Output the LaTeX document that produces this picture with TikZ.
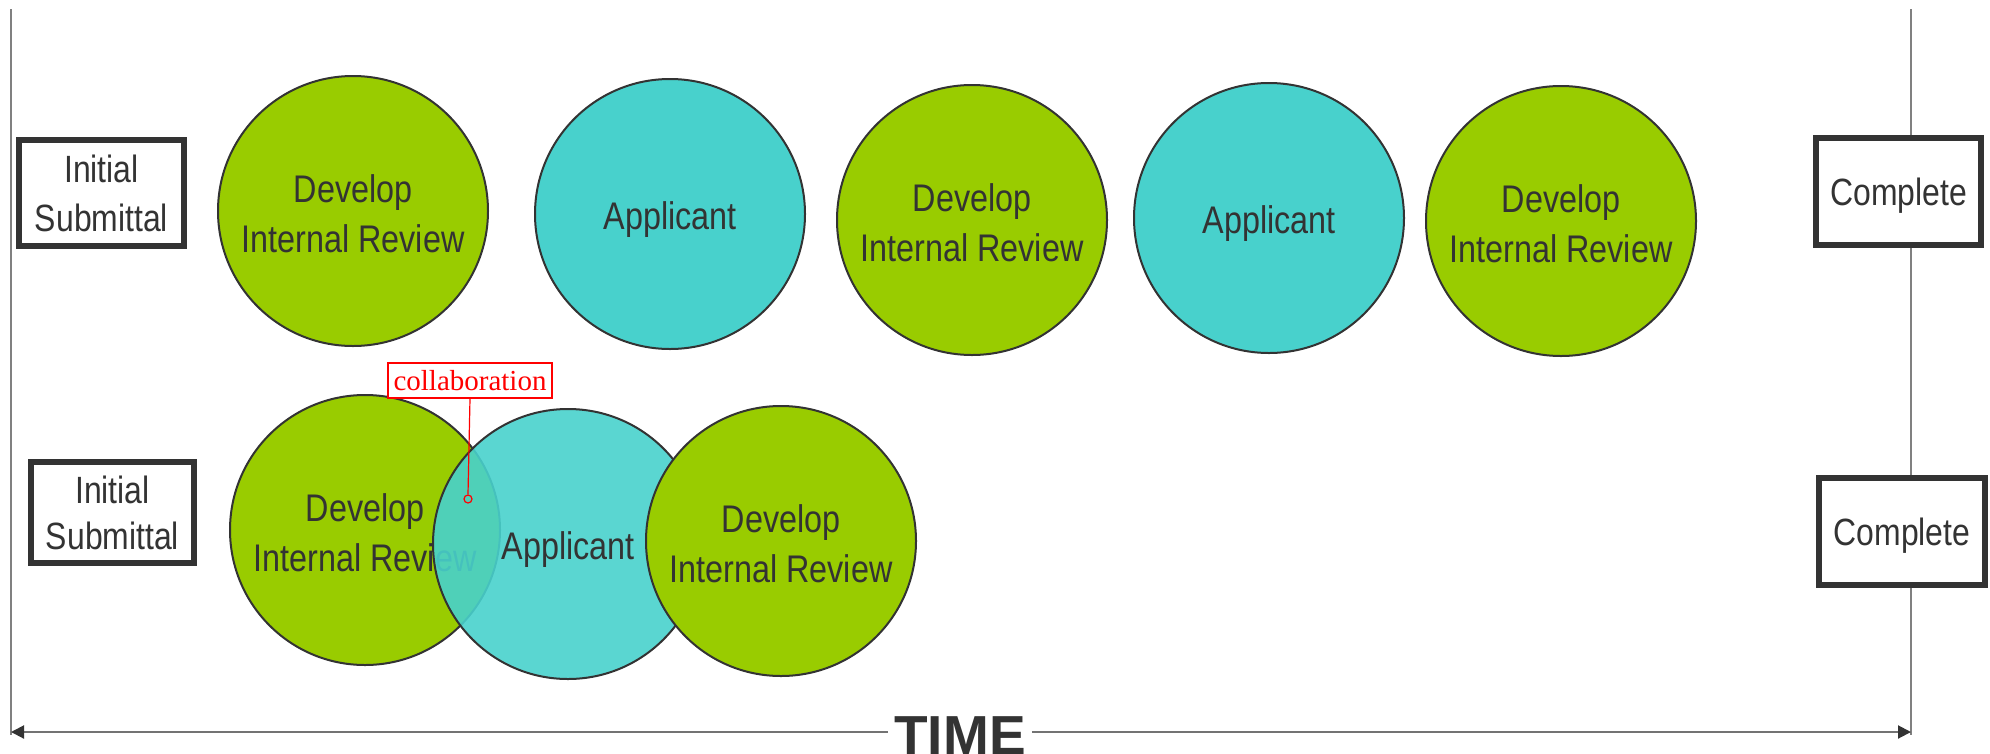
\documentclass[tikz,border=0pt]{standalone}
\usepackage{fontspec}
\setmainfont{Liberation Sans}
\newfontfamily\narrowfont[FakeStretch=0.84]{Liberation Sans}
\newfontfamily\capfont{Liberation Serif}
\usetikzlibrary{arrows.meta}
\definecolor{ink}{HTML}{333333}
\definecolor{leaf}{HTML}{99CC00}
\definecolor{aqua}{HTML}{48D1CC}
\definecolor{rail}{HTML}{808080}
\tikzset{
  blob/.style={circle, draw=ink, line width=2pt, minimum size=270pt, inner sep=0pt,
    align=center, text=ink, font=\narrowfont\fontsize{38.5}{50}\selectfont},
  devblob/.style={blob, fill=leaf, text height=82pt, text depth=0pt},
  appblob/.style={blob, fill=aqua, text height=30pt, text depth=0pt},
  endbox/.style={draw=ink, line width=6pt, fill=white, inner sep=0pt, align=center,
    text=ink, font=\narrowfont\fontsize{38}{46}\selectfont},
  railline/.style={draw=rail, line width=2pt},
  tline/.style={draw=rail!90!black, line width=2pt},
  tip/.style={-{Triangle[length=13pt,width=13pt,color=ink]}},
  note/.style={draw=red, line width=1.2pt, fill=white, text=red, inner sep=0pt,
    minimum width=164pt, minimum height=35pt, font=\capfont\fontsize{29}{32}\selectfont},
}
\begin{document}
\begin{tikzpicture}[x=1pt,y=-1pt]
\useasboundingbox (0,0) rectangle (1990,753);
% rails
\coordinate (lt) at (11,9);
\coordinate (lb) at (11,735);
\coordinate (rt) at (1911,9);
\coordinate (rb) at (1911,735);
\draw[railline] (lt) -- (lb);
\draw[railline] (rt) -- (rb);
% row 1
\node[endbox, minimum width=165pt, minimum height=106pt, font=\narrowfont\fontsize{38}{49}\selectfont] (s1) at (101.5,193) {Initial\\Submittal};
\node[devblob] (c1) at (353,211) {Develop\\Internal Review};
\node[appblob] (c2) at (670,214) {Applicant};
\node[devblob] (c3) at (972,220) {Develop\\Internal Review};
\node[appblob] (c4) at (1269,218) {Applicant};
\node[devblob] (c5) at (1561,221) {Develop\\Internal Review};
\node[endbox, minimum width=165pt, minimum height=107pt, text height=27pt, text depth=0pt] (e1) at (1898.5,191.5) {Complete};
% row 2
\node[endbox, minimum width=163pt, minimum height=101pt] (s2) at (112.5,512.5) {Initial\\Submittal};
\node[devblob] (d1) at (365,530) {Develop\\Internal Review};
\node[appblob, fill opacity=0.9, text opacity=1] (d2) at (568,544) {Applicant};
\node[devblob] (d3) at (781,541) {Develop\\Internal Review};
\node[endbox, minimum width=166pt, minimum height=107pt, text height=27pt, text depth=0pt] (e2) at (1902,531.5) {Complete};
% collaboration note
\node[note] (collab) at (470,380.5) {collaboration};
\node[circle, draw=red, line width=1.2pt, minimum size=8pt, inner sep=0pt] (cp) at (468,499) {};
\draw[red, line width=1.2pt] (collab.south) -- (cp.north);
% time axis
\node[anchor=base, text=ink, inner xsep=6pt, inner ysep=0pt,
  font=\bfseries\fontsize{55}{60}\selectfont] (time) at (960,754) {TIME};
\coordinate (tl) at (11,732);
\coordinate (tr) at (1911,732);
\draw[tline, tip] (time.west |- tl) -- (tl);
\draw[tline, tip] (time.east |- tr) -- (tr);
\end{tikzpicture}
\end{document}
